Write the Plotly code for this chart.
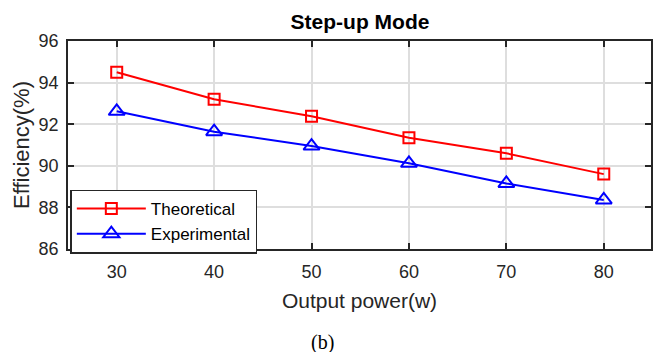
import plotly.graph_objects as go

power = [30, 40, 50, 60, 70, 80]
theoretical = [94.5, 93.2, 92.38, 91.35, 90.6, 89.6]
experimental = [92.62, 91.64, 90.95, 90.12, 89.15, 88.36]
x_ticks = [30, 40, 50, 60, 70, 80]
y_ticks = [86, 88, 90, 92, 94, 96]

font_family = "Liberation Sans, Arial, sans-serif"
axis_col = "#262626"

fig = go.Figure()
fig.add_trace(go.Scatter(
    x=power, y=theoretical, name="Theoretical", mode="lines+markers",
    line=dict(color="#ff0000", width=2),
    marker=dict(symbol="square-open", size=11, color="#ff0000", line=dict(width=2)),
))
fig.add_trace(go.Scatter(
    x=power, y=experimental, name="Experimental", mode="lines+markers",
    line=dict(color="#0000ff", width=2),
    marker=dict(symbol="triangle-up-open", size=14, color="#0000ff", line=dict(width=2)),
))

axis_common = dict(
    showline=True, linecolor=axis_col, linewidth=1.5, mirror="ticks",
    ticks="inside", ticklen=6, tickwidth=2, tickcolor=axis_col,
    showgrid=True, gridcolor="#dedede", gridwidth=1.5, zeroline=False,
    tickfont=dict(family=font_family, size=18, color="#262626"),
)

fig.update_xaxes(
    range=[25, 84.85], tickvals=x_ticks, ticklabelstandoff=6,
    title=dict(text="Output power(w)", font=dict(family=font_family, size=21, color="#262626"), standoff=12),
    **axis_common,
)
fig.update_yaxes(
    range=[86, 96], tickvals=y_ticks, ticklabelstandoff=4,
    title=dict(text="Efficiency(%)", font=dict(family=font_family, size=22, color="#262626"), standoff=3),
    **axis_common,
)

fig.update_layout(
    width=653, height=352,
    margin=dict(l=68, r=0, t=41, b=103),
    paper_bgcolor="white", plot_bgcolor="white",
    title=dict(text="<b>Step-up Mode</b>", x=360 / 653, xanchor="center",
               y=1 - 22 / 352, yanchor="middle",
               font=dict(family=font_family, size=21, color="#000000")),
    legend=dict(
        x=0.004, y=0.286, xanchor="left", yanchor="top",
        bgcolor="white", bordercolor=axis_col, borderwidth=1.5,
        font=dict(family=font_family, size=17, color="#000000"),
        itemwidth=69,
    ),
    showlegend=True,
    annotations=[dict(
        text="(b)", xref="paper", yref="paper", x=(325 - 68) / 588, y=(249 - 342) / 208,
        xanchor="center", yanchor="middle", showarrow=False,
        font=dict(family="Liberation Serif, Times New Roman, serif", size=20, color="#000000"),
    )],
)

fig.write_html("out.html")
